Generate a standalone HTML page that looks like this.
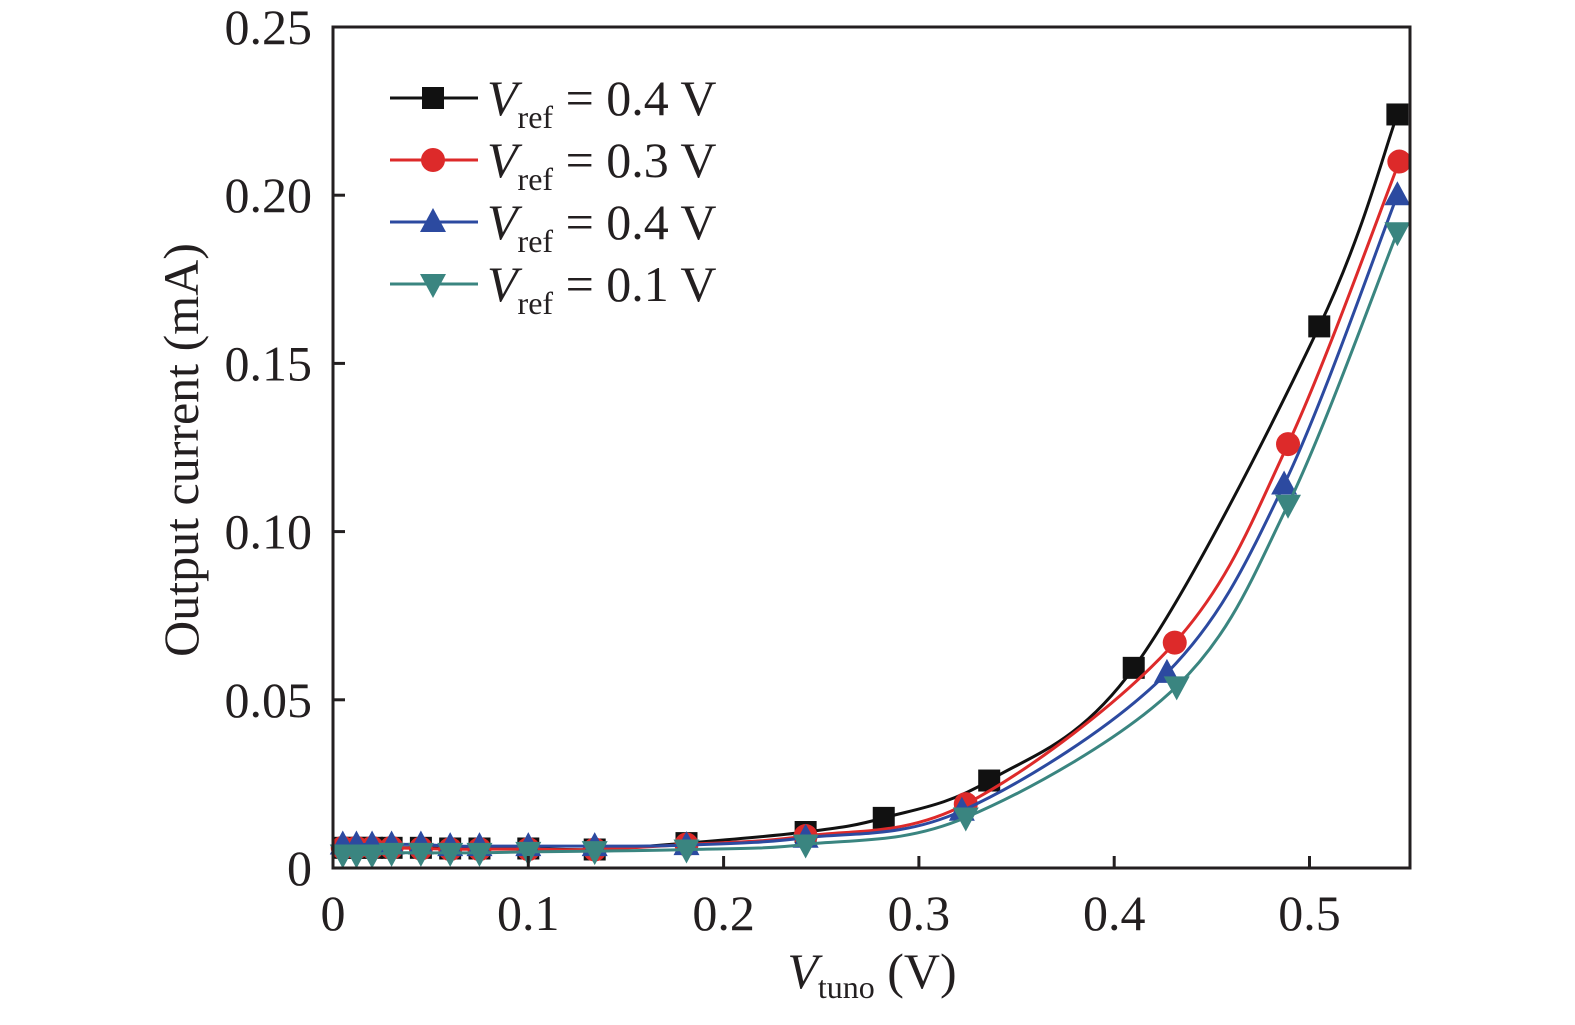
<!DOCTYPE html>
<html><head><meta charset="utf-8"><style>
body{margin:0;background:#fff;}
svg text{font-family:"Liberation Serif",serif;fill:#231f20;}
</style></head><body>
<svg id="chart" width="1575" height="1020" viewBox="0 0 1575 1020" xmlns="http://www.w3.org/2000/svg">
<g id="grid"></g>
<g id="series"></g>
<rect x="333" y="27" width="1077" height="841" fill="none" stroke="#231f20" stroke-width="3"/>
<g id="axes"></g>
<text transform="translate(198,450) rotate(-90)" text-anchor="middle" font-size="50">Output current (mA)</text>
<text x="872" y="988" text-anchor="middle" font-size="50"><tspan font-style="italic">V</tspan><tspan font-size="32" dy="10">tuno</tspan><tspan dy="-10"> (V)</tspan></text>
<g id="legend"></g>
</svg>
<script>
const xTicks=[0,0.1,0.2,0.3,0.4,0.5];
const xTickLabels=["0","0.1","0.2","0.3","0.4","0.5"];
const yTicks=[0,0.05,0.10,0.15,0.20,0.25];
const yTickLabels=["0","0.05","0.10","0.15","0.20","0.25"];
const seriesNames=["V_ref = 0.4 V","V_ref = 0.3 V","V_ref = 0.4 V","V_ref = 0.1 V"];
const legendValues=["0.4","0.3","0.4","0.1"];
const xBlack=[0.005,0.012,0.02,0.03,0.045,0.06,0.075,0.1,0.134,0.181,0.242,0.282,0.336,0.41,0.505,0.545];
const yBlack=[0.006,0.006,0.006,0.006,0.006,0.0058,0.0058,0.0058,0.0055,0.0074,0.0107,0.0149,0.026,0.0595,0.161,0.224];
const xRed=[0.005,0.012,0.02,0.03,0.045,0.06,0.075,0.1,0.134,0.181,0.242,0.324,0.431,0.489,0.546];
const yRed=[0.006,0.006,0.006,0.006,0.0058,0.0056,0.0056,0.0056,0.0055,0.007,0.0095,0.019,0.067,0.126,0.210];
const xBlue=[0.005,0.012,0.02,0.03,0.045,0.06,0.075,0.1,0.134,0.181,0.242,0.322,0.427,0.487,0.545];
const yBlue=[0.007,0.007,0.007,0.007,0.007,0.0065,0.0065,0.0065,0.0065,0.0068,0.009,0.017,0.058,0.114,0.200];
const xTeal=[0.005,0.012,0.02,0.03,0.045,0.06,0.075,0.1,0.134,0.181,0.242,0.324,0.432,0.489,0.545];
const yTeal=[0.004,0.004,0.004,0.0045,0.0045,0.0045,0.0045,0.0048,0.005,0.0055,0.007,0.015,0.054,0.108,0.189];
const colors=["#111111","#dd2a2a","#2c4aa0","#3a8580"];
const markers=["square","circle","triangle","tridown"];

const X0=333,XS=1953,Y0=868,YS=3364;
const sx=v=>X0+v*XS, sy=v=>Y0-v*YS;
const NS="http://www.w3.org/2000/svg";
function mk(tag,attrs,parent){const e=document.createElementNS(NS,tag);for(const k in attrs)e.setAttribute(k,attrs[k]);parent.appendChild(e);return e;}
const axes=document.getElementById('axes');
xTicks.forEach((t,i)=>{
  const l=mk('line',{x1:sx(t),x2:sx(t),y1:868,y2:856,stroke:'#231f20','stroke-width':3},axes);
  
  
  const tx=mk('text',{x:sx(t),y:930,'text-anchor':'middle','font-size':50},axes);
  tx.textContent=xTickLabels[i];
  
  
});
yTicks.forEach((t,i)=>{
  const l=mk('line',{x1:333,x2:345,y1:sy(t),y2:sy(t),stroke:'#231f20','stroke-width':3},axes);
  
  
  const tx=mk('text',{x:312,y:sy(t)+17,'text-anchor':'end','font-size':50},axes);
  tx.textContent=yTickLabels[i];
  
  
});
function curve(pts){
  let d=`M${pts[0][0]},${pts[0][1]}`;
  for(let i=0;i<pts.length-1;i++){
    const p0=pts[Math.max(0,i-1)],p1=pts[i],p2=pts[i+1],p3=pts[Math.min(pts.length-1,i+2)];
    d+=` C${p1[0]+(p2[0]-p0[0])/6},${p1[1]+(p2[1]-p0[1])/6} ${p2[0]-(p3[0]-p1[0])/6},${p2[1]-(p3[1]-p1[1])/6} ${p2[0]},${p2[1]}`;
  }
  return d;
}
function marker(type,cx,cy,col,parent){
  let e;
  if(type==='square')e=mk('rect',{x:cx-11,y:cy-11,width:22,height:22,fill:col},parent);
  else if(type==='circle')e=mk('circle',{cx:cx,cy:cy,r:12,fill:col},parent);
  else if(type==='triangle')e=mk('polygon',{points:`${cx},${cy-14} ${cx-13},${cy+10} ${cx+13},${cy+10}`,fill:col},parent);
  else e=mk('polygon',{points:`${cx},${cy+14} ${cx-13},${cy-10} ${cx+13},${cy-10}`,fill:col},parent);
  return e;
}
const sg=document.getElementById('series');
[[xBlack,yBlack],[xRed,yRed],[xBlue,yBlue],[xTeal,yTeal]].forEach((s,k)=>{
  const pts=s[0].map((x,i)=>[sx(x),sy(s[1][i])]);
  const p=mk('path',{d:curve(pts),fill:'none',stroke:colors[k],'stroke-width':3},sg);
  
  
  pts.forEach(q=>{
    const m=marker(markers[k],q[0],q[1],colors[k],sg);
    
    
  });
});
const lg=document.getElementById('legend');
legendValues.forEach((v,k)=>{
  const y=98+k*62;
  const g=mk('g',{},lg);
  
  
  mk('line',{x1:390,x2:478,y1:y,y2:y,stroke:colors[k],'stroke-width':3},g);
  marker(markers[k],433,y,colors[k],g);
  const t=mk('text',{x:487,y:y+17,'font-size':50},g);
  t.innerHTML=`<tspan font-style="italic">V</tspan><tspan font-size="32" dy="13">ref</tspan><tspan dy="-13"> = ${v} V</tspan>`;
});
</script>
</body></html>
